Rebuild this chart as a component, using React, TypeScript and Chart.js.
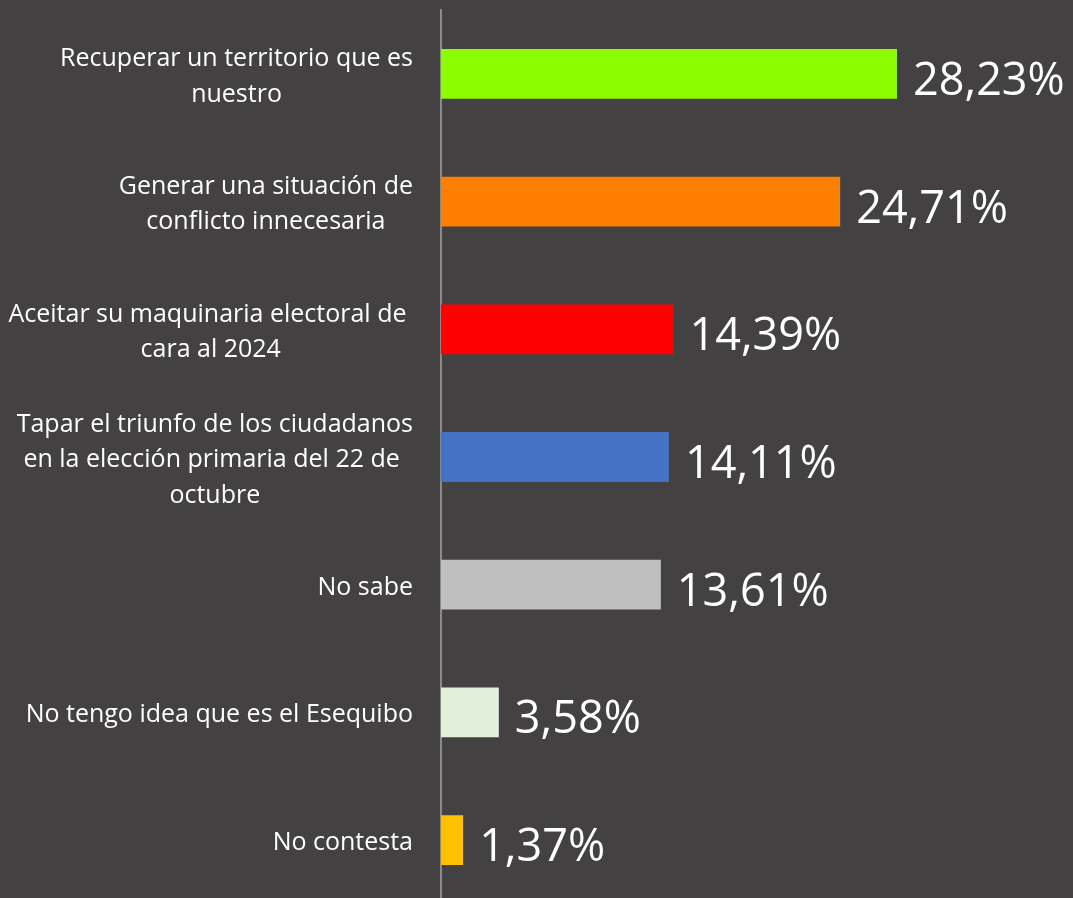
import React, { useEffect, useRef } from "react";
import { Chart, registerables } from "chart.js";

Chart.register(...registerables);

const categories: string[][] = [
  ["Recuperar un territorio que es", "nuestro"],
  ["Generar una situación de", "conflicto innecesaria"],
  ["Aceitar su maquinaria electoral de ", "cara al 2024"],
  ["Tapar el triunfo de los ciudadanos", "en la elección primaria del 22 de ", "octubre"],
  ["No sabe"],
  ["No tengo idea que es el Esequibo"],
  ["No contesta"],
];
const values: number[] = [28.23, 24.71, 14.39, 14.11, 13.61, 3.58, 1.37];
const valueLabels: string[] = ["28,23%", "24,71%", "14,39%", "14,11%", "13,61%", "3,58%", "1,37%"];
const barColors: string[] = ["#8cfd00", "#ff8000", "#ff0000", "#4472c4", "#bfbfbf", "#e2efda", "#ffc000"];

const BG = "#434142";
const FONT = "'Open Sans', 'Noto Sans', sans-serif";

const labelPlugin = {
  id: "customLabels",
  afterDatasetsDraw(chart: any) {
    const ctx = chart.ctx as CanvasRenderingContext2D;
    const meta = chart.getDatasetMeta(0);
    const yScale = chart.scales.y;
    ctx.save();
    ctx.fillStyle = "#ffffff";
    // value labels
    ctx.font = `45px ${FONT}`;
    ctx.textAlign = "left";
    ctx.textBaseline = "alphabetic";
    meta.data.forEach((el: any, i: number) => {
      ctx.fillText(valueLabels[i], el.x + 16, el.y + 21);
    });
    // category labels
    ctx.font = `25px ${FONT}`;
    ctx.textAlign = "center";
    const right = 413;
    const lineH = 35.5;
    categories.forEach((lines, i) => {
      const cy = yScale.getPixelForValue(i);
      const maxW = Math.max(...lines.map((l) => ctx.measureText(l).width));
      const cx = right - maxW / 2;
      const n = lines.length;
      lines.forEach((line, j) => {
        ctx.fillText(line, cx, cy + 10 + (j - (n - 1) / 2) * lineH);
      });
    });
    ctx.restore();
  },
};

export default function App() {
  const ref = useRef<HTMLCanvasElement | null>(null);
  useEffect(() => {
    if (!ref.current) return;
    const chart = new Chart(ref.current, {
      type: "bar",
      data: {
        labels: categories.map((c) => c.join(" ")),
        datasets: [
          {
            data: values,
            backgroundColor: barColors,
            borderWidth: 0,
            barPercentage: 0.39,
            categoryPercentage: 1,
          },
        ],
      },
      options: {
        indexAxis: "y",
        animation: false,
        responsive: false,
        layout: { padding: { top: 10, right: 2, bottom: 1, left: 0 } },
        plugins: { legend: { display: false }, tooltip: { enabled: false } },
        scales: {
          x: { display: false, min: 0, max: 39 },
          y: {
            grid: { display: false },
            border: { display: true, color: "#8a8a8a", width: 2 },
            ticks: { display: false },
            afterFit: (s: any) => {
              s.width = 441;
            },
          },
        },
      },
      plugins: [labelPlugin],
    });
    return () => chart.destroy();
  }, []);
  return (
    <div
      style={{
        position: "fixed",
        left: 0,
        top: 0,
        width: 1073,
        height: 898,
        overflow: "hidden",
        background: BG,
      }}
    >
      <canvas ref={ref} width={1073} height={905} style={{ display: "block" }} />
    </div>
  );
}
